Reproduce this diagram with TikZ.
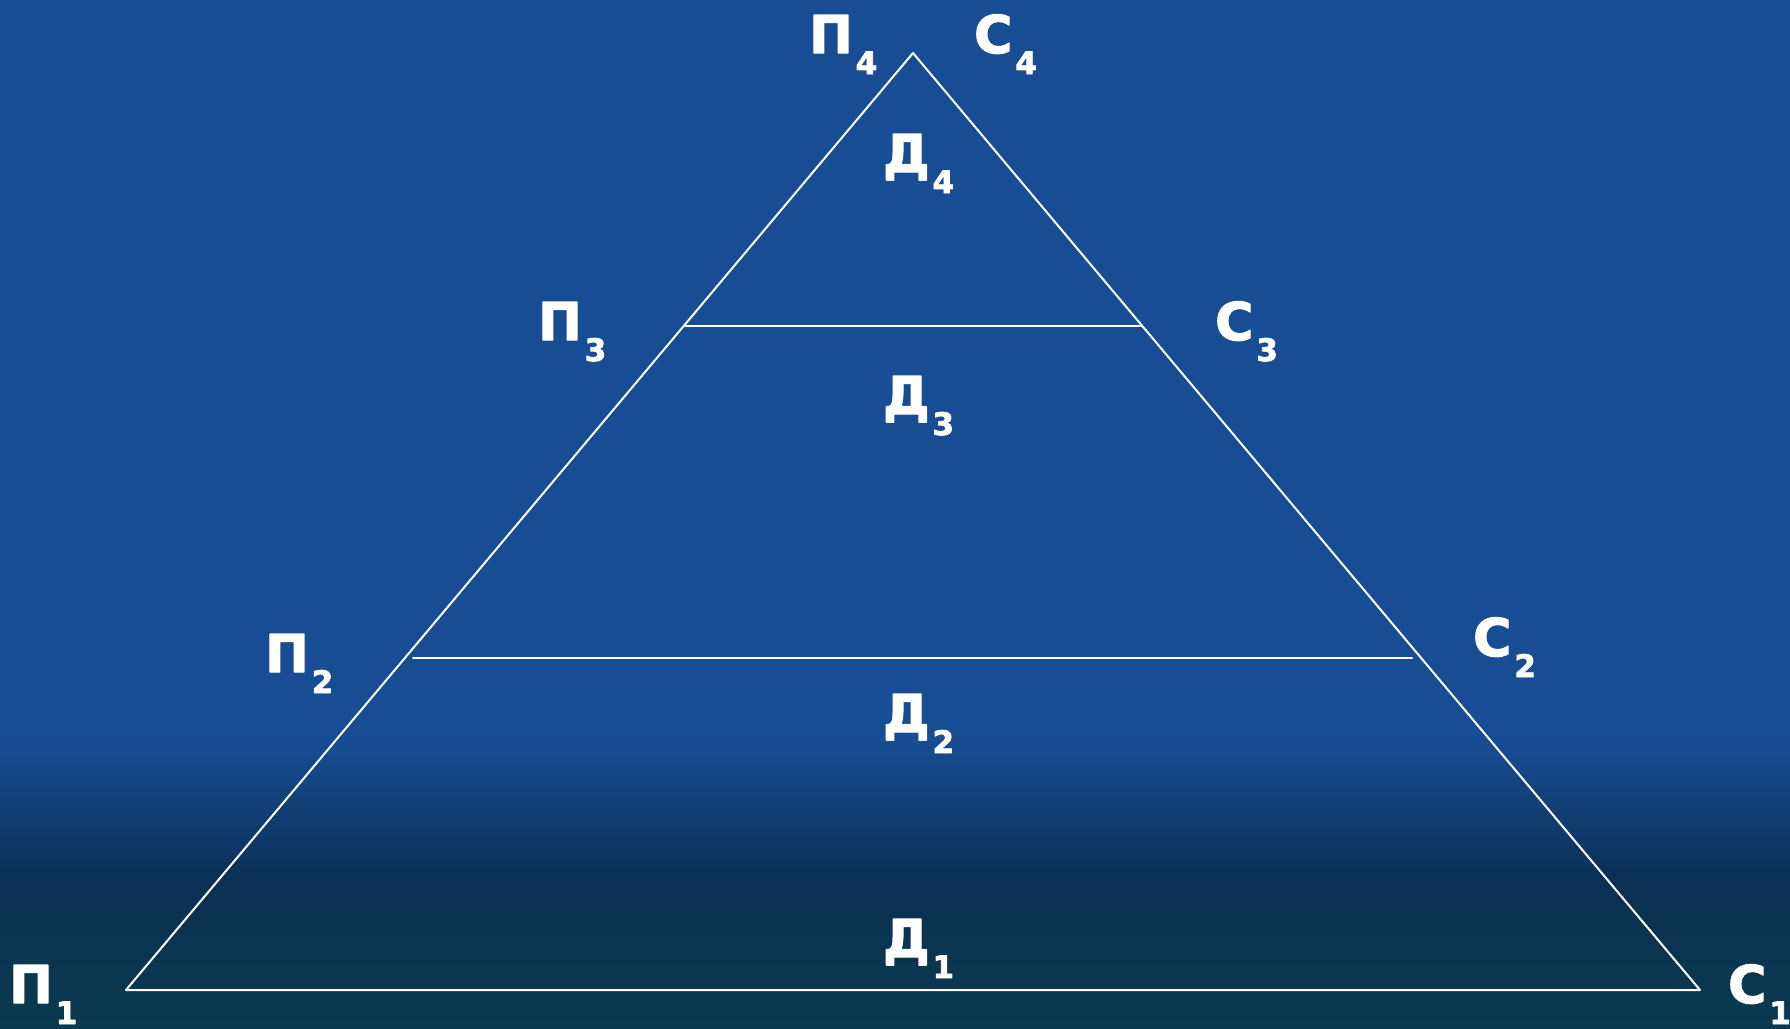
\documentclass[tikz,border=0pt]{standalone}
\usepackage{fontspec}
\setmainfont{DejaVu Sans}[BoldFeatures={FakeBold=2.5}]
\usetikzlibrary{calc}
\definecolor{bgblue}{HTML}{184C93}
\definecolor{bgdark}{HTML}{0A3055}
\definecolor{bgfoot}{HTML}{0A3A4C}
\tikzset{
    lab/.style={
        anchor=base west, inner sep=0pt, text=white,
        font=\fontsize{52}{58}\selectfont\bfseries
    },
    edge/.style={draw=white, line width=2pt}
}
\newcommand{\sublab}[2]{#1\hspace{3pt}\raisebox{-21pt}{\fontsize{31}{34}\selectfont #2}}

\begin{document}
\begin{tikzpicture}[x=1pt,y=-1pt, line cap=round, line join=round]

\useasboundingbox (0,0) rectangle (1790,1028);

% background
\fill[bgblue] (0,0) rectangle (1790,741);
\shade[top color=bgblue, bottom color=bgdark] (0,740) rectangle (1790,881);
\shade[top color=bgdark, bottom color=bgfoot] (0,880) rectangle (1790,1028);

% triangle corners and cut points
\coordinate (apex) at (913,53);
\coordinate (p1) at (126,990);
\coordinate (c1) at (1700,990);
\coordinate (p3) at (685,326);
\coordinate (c3) at (1141,326);
\coordinate (p2) at (413,658);
\coordinate (c2) at (1412,658);

\draw[edge] (p1) -- (apex) -- (c1) -- cycle;
\draw[edge] (p3) -- (c3);
\draw[edge] (p2) -- (c2);

% left labels
\node[lab] (P4) at (809,53) {\sublab{П}{4}};
\node[lab] (P3) at (538,340) {\sublab{П}{3}};
\node[lab] (P2) at (265,672) {\sublab{П}{2}};
\node[lab] (P1) at (9,1003) {\sublab{П}{1}};

% right labels
\node[lab] (C4) at (974,53) {\sublab{С}{4}};
\node[lab] (C3) at (1215,340) {\sublab{С}{3}};
\node[lab] (C2) at (1473,656) {\sublab{С}{2}};
\node[lab] (C1) at (1728,1003) {\sublab{С}{1}};

% layer labels
\node[lab] (D4) at (883,172) {\sublab{Д}{4}};
\node[lab] (D3) at (883,414) {\sublab{Д}{3}};
\node[lab] (D2) at (883,732) {\sublab{Д}{2}};
\node[lab] (D1) at (883,957) {\sublab{Д}{1}};

\end{tikzpicture}
\end{document}
